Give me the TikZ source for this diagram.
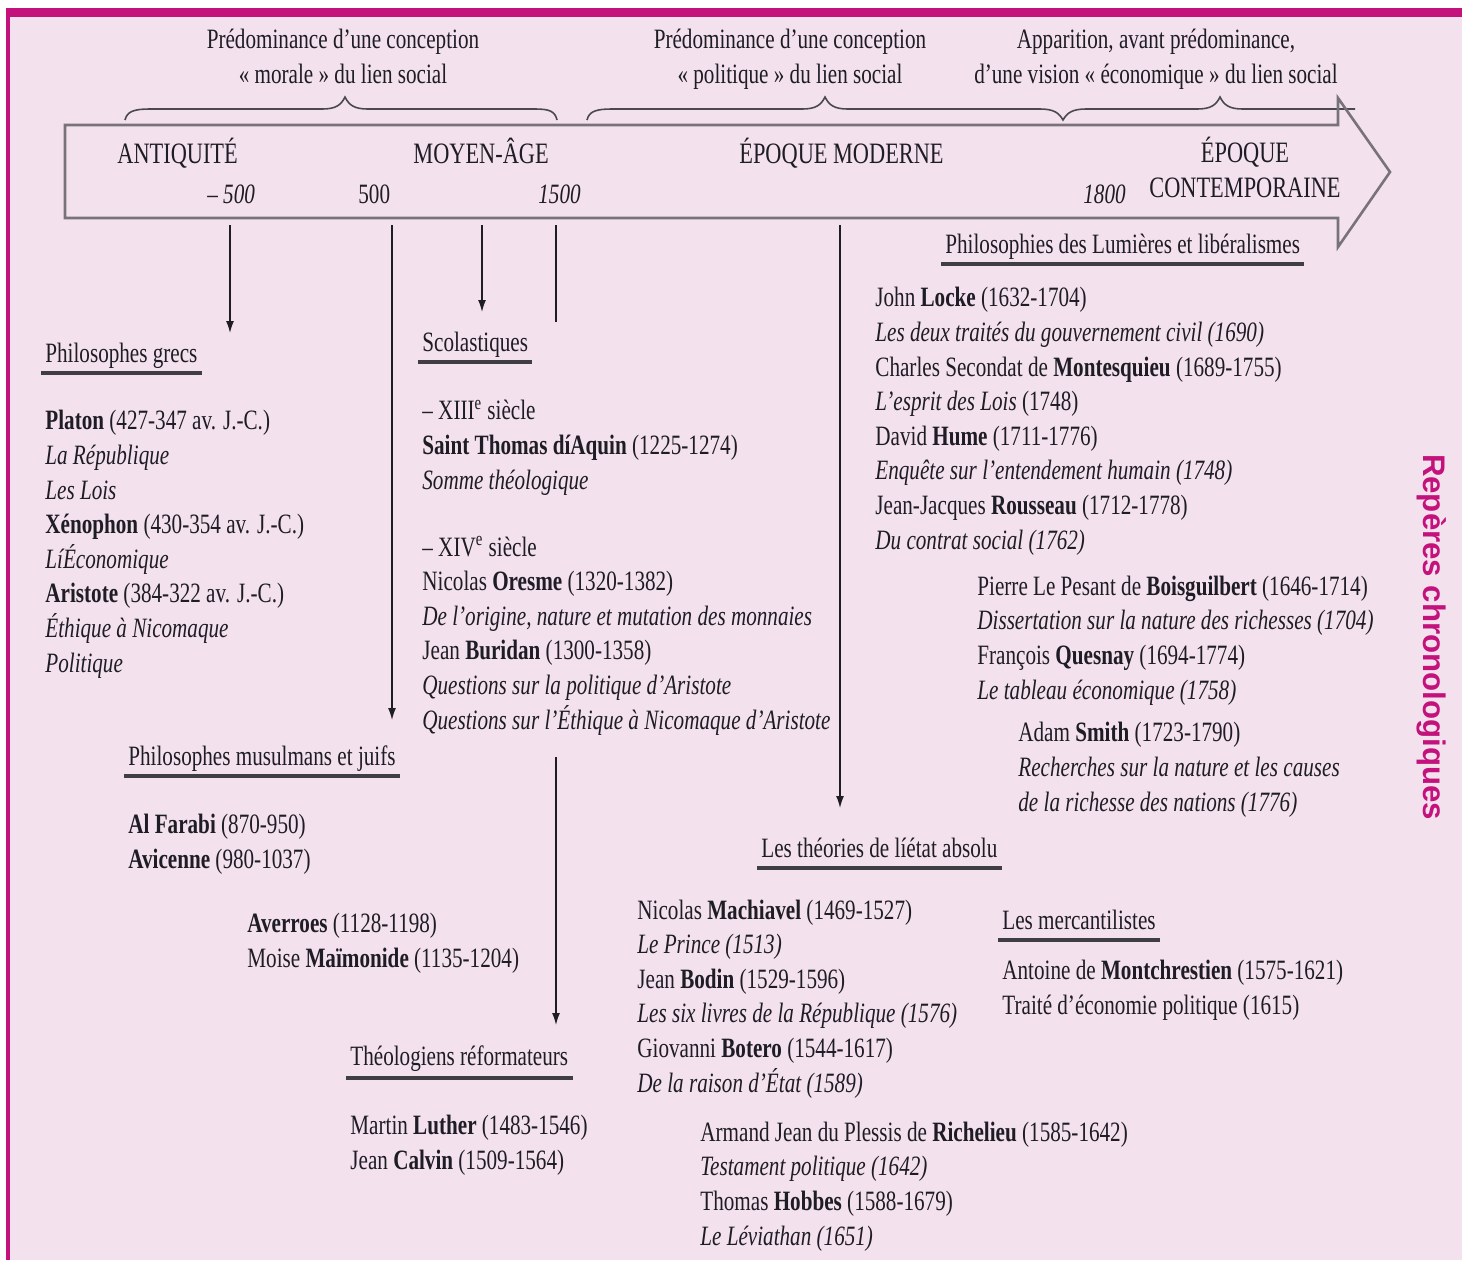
\documentclass[tikz,border=0pt]{standalone}
\usepackage{fontspec}
\setmainfont{Liberation Serif}[FakeStretch=0.755]
\newfontfamily\sansrep{Liberation Sans}
\usetikzlibrary{arrows.meta}
\definecolor{fond}{RGB}{243,225,238}
\definecolor{bord}{RGB}{196,18,124}
\definecolor{fleche}{RGB}{120,114,122}
\definecolor{encre}{RGB}{30,28,36}
\newcommand{\corps}{\fontsize{14}{17.3}\selectfont}
\newcommand{\epoque}{\fontsize{14.8}{17.3}\selectfont}

\begin{document}
\begin{tikzpicture}[x=0.5pt,y=-0.5pt,
      every node/.style={inner sep=0pt,text=encre},
      bloc/.style={anchor=base west,align=left,font=\corps},
      periode/.style={anchor=base west,font=\epoque},
      titre/.style={anchor=base west,inner xsep=2pt,font=\corps},
      haut/.style={anchor=base,align=center,font=\corps},
      souligne/.style={line width=2pt,encre!85},
      lien/.style={line width=0.7pt,encre,-{Latex[length=6pt,width=4pt]}}]
    \useasboundingbox (0,0) rectangle (1462,1260);
    \fill[fond] (6,8) rectangle (1462,1260);
    \fill[bord] (6,8) rectangle (1462,17);
    \fill[bord] (6,8) rectangle (10,1260);

    \node[haut] (morale) at (343,83) {Prédominance d'une conception\\« morale »  du lien social};
    \node[haut] (politique) at (790,83) {Prédominance d'une conception\\« politique » du lien social};
    \node[haut] (economique) at (1156,83) {Apparition, avant prédominance,\\d'une vision « économique » du lien social};

    \draw[line width=0.8pt,encre!80] (125,120) .. controls (127,111) and (135,109) .. (150,109) -- (322,109)
      .. controls (336,109) and (341,105) .. (345,97) .. controls (349,105) and (354,109) .. (368,109)
      -- (535,109) .. controls (549,109) and (555,111) .. (557,120);
    \draw[line width=0.8pt,encre!80] (587,120) .. controls (589,111) and (597,109) .. (612,109) -- (802,109)
      .. controls (816,109) and (821,105) .. (825,97) .. controls (829,105) and (834,109) .. (848,109)
      -- (1040,109) .. controls (1054,109) and (1059,113) .. (1063,120) .. controls (1067,113) and (1072,109) .. (1086,109)
      -- (1197,109) .. controls (1211,109) and (1216,105) .. (1220,97) .. controls (1224,105) and (1229,109) .. (1243,109)
      -- (1355,109);

    \draw[fleche,line width=1.3pt,line join=miter] (65,125) -- (1338,125) -- (1338,98) -- (1390,172)
      -- (1338,247) -- (1338,218) -- (65,218) -- cycle;

    \node[periode] (antiquite) at (117,163) {ANTIQUITÉ};
    \node[periode] (moyenage) at (413,163) {MOYEN-ÂGE};
    \node[periode] (moderne) at (739,163) {ÉPOQUE MODERNE};
    \node[haut,font=\epoque] (contemporaine) at (1245,197) {ÉPOQUE\\CONTEMPORAINE};
    \node[bloc] (moins500) at (207,203) {\itshape – 500};
    \node[bloc] (an500) at (358,203) {500};
    \node[bloc] (an1500) at (538,203) {\itshape 1500};
    \node[bloc] (an1800) at (1083,203) {\itshape 1800};

    \node[rotate=-90,text=bord,font=\sansrep\bfseries\fontsize{15.6}{18}\selectfont] (reperes) at (1432,637) {Repères chronologiques};

    \coordinate (d1) at (230,225);
    \coordinate (f1) at (230,333);
    \coordinate (d2) at (392,225);
    \coordinate (f2) at (392,720);
    \coordinate (d3) at (482,225);
    \coordinate (f3) at (482,312);
    \coordinate (d4) at (556,225);
    \coordinate (f4) at (556,322);
    \coordinate (d5) at (556,757);
    \coordinate (f5) at (556,1025);
    \coordinate (d6) at (840,225);
    \coordinate (f6) at (840,808);
    \draw[lien] (d1) -- (f1);
    \draw[lien] (d2) -- (f2);
    \draw[lien] (d3) -- (f3);
    \draw[line width=0.7pt,encre] (d4) -- (f4);
    \draw[lien] (d5) -- (f5);
    \draw[lien] (d6) -- (f6);

    \node[titre] (grecs) at (41,362) {Philosophes grecs};
    \draw[souligne] ([yshift=-5.5pt]grecs.base west) -- ([yshift=-5.5pt]grecs.base east);
    \node[bloc] (platon) at (45,672) {\textbf{Platon} (427-347 av. J.-C.)\\
      \textit{La République}\\
      \textit{Les Lois}\\
      \textbf{Xénophon} (430-354 av. J.-C.)\\
      \textit{LíÉconomique}\\
      \textbf{Aristote} (384-322 av. J.-C.)\\
      \textit{Éthique à Nicomaque}\\
      \textit{Politique}};

    \node[titre] (musulmans) at (124,765) {Philosophes musulmans et juifs};
    \draw[souligne] ([yshift=-5.5pt]musulmans.base west) -- ([yshift=-5.5pt]musulmans.base east);
    \node[bloc] (farabi) at (128,868) {\textbf{Al Farabi} (870-950)\\
      \textbf{Avicenne} (980-1037)};
    \node[bloc] (averroes) at (247,967) {\textbf{Averroes} (1128-1198)\\
      Moise \textbf{Maïmonide} (1135-1204)};

    \node[titre] (scolastiques) at (418,351) {Scolastiques};
    \draw[souligne] ([yshift=-5.5pt]scolastiques.base west) -- ([yshift=-5.5pt]scolastiques.base east);
    \node[bloc] (treizieme) at (422,489) {– XIII\textsuperscript{e} siècle\\
      \textbf{Saint Thomas díAquin} (1225-1274)\\
      \textit{Somme théologique}};
    \node[bloc] (quatorzieme) at (422,729) {– XIV\textsuperscript{e} siècle\\
      Nicolas \textbf{Oresme} (1320-1382)\\
      \textit{De l’origine, nature et mutation des monnaies}\\
      Jean \textbf{Buridan} (1300-1358)\\
      \textit{Questions sur la politique d’Aristote}\\
      \textit{Questions sur l’Éthique à Nicomaque d’Aristote}};

    \node[titre] (reformateurs) at (346,1065) {Théologiens réformateurs};
    \draw[souligne] ([yshift=-6.5pt]reformateurs.base west) -- ([yshift=-6.5pt]reformateurs.base east);
    \node[bloc] (luther) at (350,1169) {Martin \textbf{Luther} (1483-1546)\\
      Jean \textbf{Calvin} (1509-1564)};

    \node[titre] (lumieres) at (941,253) {Philosophies des Lumières et libéralismes};
    \draw[souligne] ([yshift=-5.5pt]lumieres.base west) -- ([yshift=-5.5pt]lumieres.base east);
    \node[bloc] (locke) at (875,549) {John \textbf{Locke} (1632-1704)\\
      \textit{Les deux traités du gouvernement civil (1690)}\\
      Charles Secondat de \textbf{Montesquieu} (1689-1755)\\
      \textit{L’esprit des Lois} (1748)\\
      David \textbf{Hume} (1711-1776)\\
      \textit{Enquête sur l’entendement humain (1748)}\\
      Jean-Jacques \textbf{Rousseau} (1712-1778)\\
      \textit{Du contrat social (1762)}};
    \node[bloc] (boisguilbert) at (977,699) {Pierre Le Pesant de \textbf{Boisguilbert} (1646-1714)\\
      \textit{Dissertation sur la nature des richesses (1704)}\\
      François \textbf{Quesnay} (1694-1774)\\
      \textit{Le tableau économique (1758)}};
    \node[bloc] (smith) at (1018,811) {Adam \textbf{Smith} (1723-1790)\\
      \textit{Recherches sur la nature et les causes}\\
      \textit{de la richesse des nations (1776)}};

    \node[titre] (absolu) at (757,857) {Les théories de líétat absolu};
    \draw[souligne] ([yshift=-5.5pt]absolu.base west) -- ([yshift=-5.5pt]absolu.base east);
    \node[bloc] (machiavel) at (637,1092) {Nicolas \textbf{Machiavel} (1469-1527)\\
      \textit{Le Prince (1513)}\\
      Jean \textbf{Bodin} (1529-1596)\\
      \textit{Les six livres de la République (1576)}\\
      Giovanni \textbf{Botero} (1544-1617)\\
      \textit{De la raison d’État (1589)}};
    \node[bloc] (richelieu) at (700,1245) {Armand Jean du Plessis de \textbf{Richelieu} (1585-1642)\\
      \textit{Testament politique (1642)}\\
      Thomas \textbf{Hobbes} (1588-1679)\\
      \textit{Le Léviathan (1651)}};

    \node[titre] (mercantilistes) at (998,929) {Les mercantilistes};
    \draw[souligne] ([yshift=-5.5pt]mercantilistes.base west) -- ([yshift=-5.5pt]mercantilistes.base east);
    \node[bloc] (montchrestien) at (1002,1014) {Antoine de \textbf{Montchrestien} (1575-1621)\\
      Traité d’économie politique (1615)};
  \end{tikzpicture}
\end{document}
